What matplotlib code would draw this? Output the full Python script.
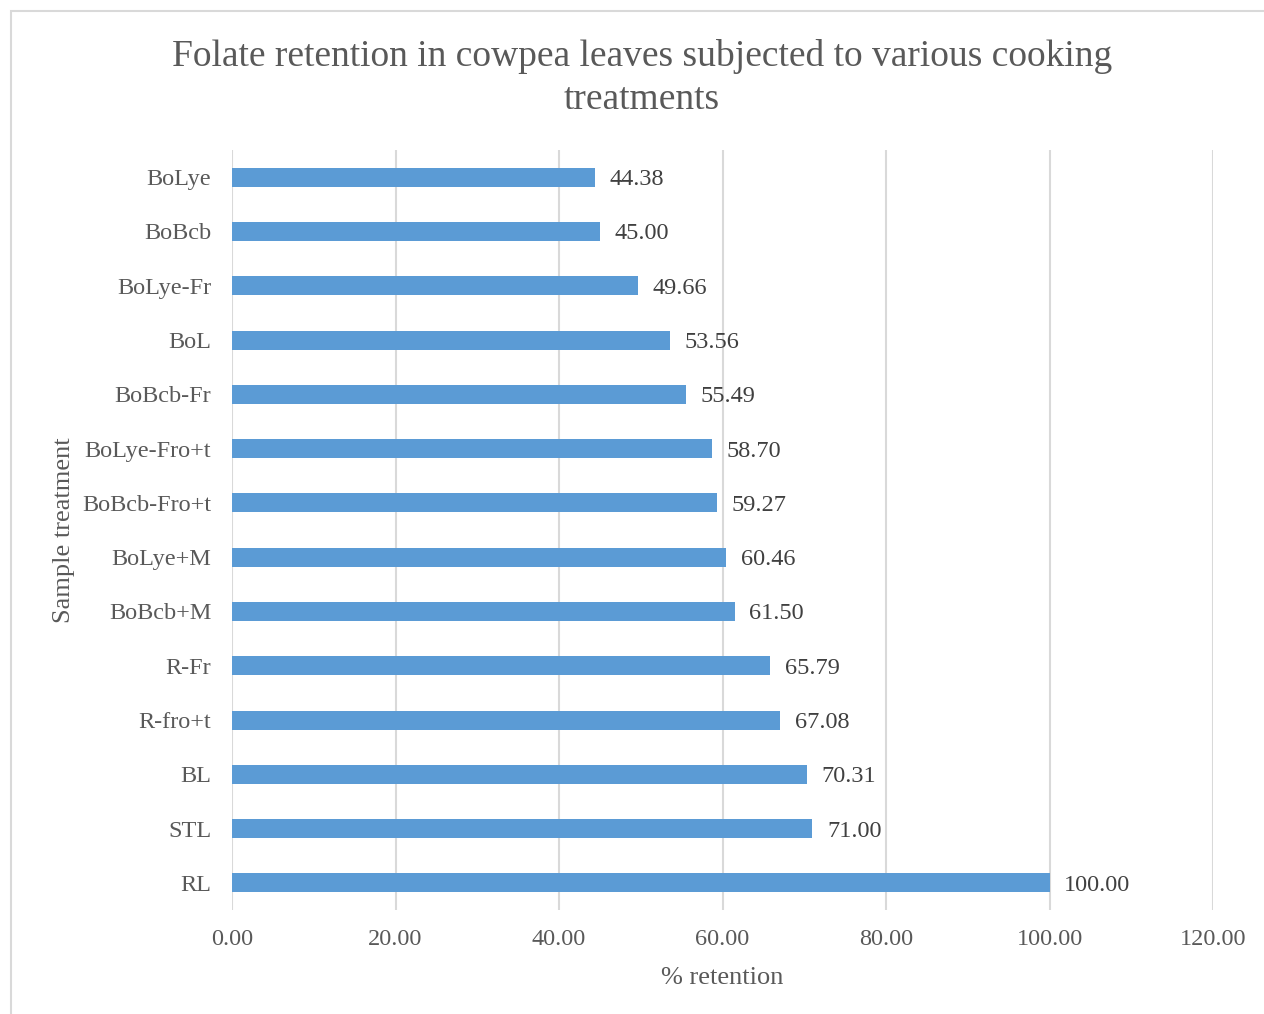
import matplotlib.pyplot as plt
from matplotlib.patches import Rectangle

plt.rcParams['font.family'] = ['Liberation Serif', 'DejaVu Serif']

# retention (%) per treatment, top to bottom as listed
treatments = ["BoLye", "BoBcb", "BoLye-Fr", "BoL", "BoBcb-Fr", "BoLye-Fro+t",
              "BoBcb-Fro+t", "BoLye+M", "BoBcb+M", "R-Fr", "R-fro+t", "BL",
              "STL", "RL"]
retention = [44.38, 45.00, 49.66, 53.56, 55.49, 58.70,
             59.27, 60.46, 61.50, 65.79, 67.08, 70.31,
             71.00, 100.00]
xticks = [0, 20, 40, 60, 80, 100, 120]

text_col = "#595959"
grid_col = "#D9D9D9"
bar_col = "#5B9BD5"

fig = plt.figure(figsize=(12.64, 10.14), dpi=100)
# chart border, runs off the right and bottom edge
fig.patches.append(Rectangle((11 / 1264, -0.05), 1.1, 1 - 11 / 1014 + 0.05,
                             transform=fig.transFigure, fill=False,
                             edgecolor=grid_col, linewidth=1.5))

ax = fig.add_axes([232 / 1264, 1 - 910 / 1014, 981 / 1264, 760 / 1014])

pos = list(range(len(treatments)))[::-1]
ax.barh(pos, retention, height=0.35, color=bar_col, zorder=3)
for p, v in zip(pos, retention):
    ax.text(v + 1.8, p, f"{v:.2f}", va="center_baseline", ha="left",
            fontsize=17.5, color="#404040")

ax.set_xlim(0, 120)
ax.set_ylim(-0.5, len(treatments) - 0.5)
ax.set_xticks(xticks)
ax.set_xticklabels([f"{t:.2f}" for t in xticks], fontsize=17.5, color=text_col)
ax.set_yticks(pos)
ax.set_yticklabels(treatments, fontsize=17.5, color=text_col)
ax.tick_params(length=0)
ax.tick_params(axis="x", pad=14)
ax.tick_params(axis="y", pad=15)
ax.grid(axis="x", color=grid_col, linewidth=1.5, zorder=0)
for s in ax.spines.values():
    s.set_visible(False)

ax.set_xlabel("% retention", fontsize=19, color=text_col, labelpad=12)
ax.set_ylabel("Sample treatment", fontsize=19, color=text_col, labelpad=5)

fig.text(642 / 1264, 1 - 78 / 1014,
         "Folate retention in cowpea leaves subjected to various cooking\ntreatments",
         ha="center", va="center", fontsize=27, color=text_col, linespacing=1.3)

fig.savefig("out.png", dpi=100)
